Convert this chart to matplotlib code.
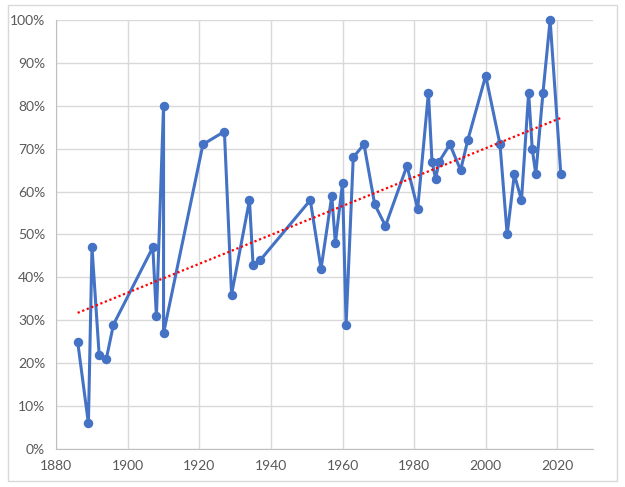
import numpy as np
import matplotlib.pyplot as plt
from matplotlib.ticker import PercentFormatter, MultipleLocator
from matplotlib.patches import Rectangle

years = [1886, 1889, 1890, 1892, 1894, 1896, 1907, 1908, 1910, 1910,
         1921, 1927, 1929, 1934, 1935, 1937, 1951, 1954, 1957, 1958,
         1960, 1961, 1963, 1966, 1969, 1972, 1978, 1981, 1984, 1985,
         1986, 1987, 1990, 1993, 1995, 2000, 2004, 2006, 2008, 2010,
         2012, 2013, 2014, 2016, 2018, 2021]
values = [25, 6, 47, 22, 21, 29, 47, 31, 80, 27,
          71, 74, 36, 58, 43, 44, 58, 42, 59, 48,
          62, 29, 68, 71, 57, 52, 66, 56, 83, 67,
          63, 67, 71, 65, 72, 87, 71, 50, 64, 58,
          83, 70, 64, 83, 100, 64]

x = np.array(years, dtype=float)
y = np.array(values, dtype=float) / 100

blue = '#4472C4'
grey = '#595959'

plt.rcParams['font.family'] = ['Lato', 'DejaVu Sans']

fig = plt.figure(figsize=(6.25, 4.87), dpi=100)
ax = fig.add_axes([0.0899, 0.078, 0.859, 0.881])

# chart border
fig.patches.append(Rectangle((0.013, 0.012), 0.974, 0.978, transform=fig.transFigure,
                             fill=False, edgecolor='#D9D9D9', linewidth=1))

ax.plot(x, y, color=blue, linewidth=2.2, marker='o', markersize=5.8,
        markerfacecolor=blue, markeredgecolor=blue, zorder=3, clip_on=False)

# linear trendline
k, b = np.polyfit(x, y, 1)
xt = np.array([x.min(), x.max()])
ax.plot(xt, k * xt + b, color='#FF0000', linestyle=(0, (1, 1.2)),
        linewidth=1.6, zorder=4)

ax.set_xlim(1880, 2030)
ax.set_ylim(0, 1)
ax.xaxis.set_major_locator(MultipleLocator(20))
ax.yaxis.set_major_locator(MultipleLocator(0.1))
ax.yaxis.set_major_formatter(PercentFormatter(1.0, decimals=0))

ax.grid(True, color='#D9D9D9', linewidth=1)
ax.set_axisbelow(True)
for s in ['top', 'right']:
    ax.spines[s].set_visible(False)
for s in ['left', 'bottom']:
    ax.spines[s].set_color('#BFBFBF')
ax.tick_params(length=0, colors=grey, labelsize=10)
ax.tick_params(axis='x', pad=8)
ax.tick_params(axis='y', pad=8)

fig.savefig('out.png', dpi=100)
